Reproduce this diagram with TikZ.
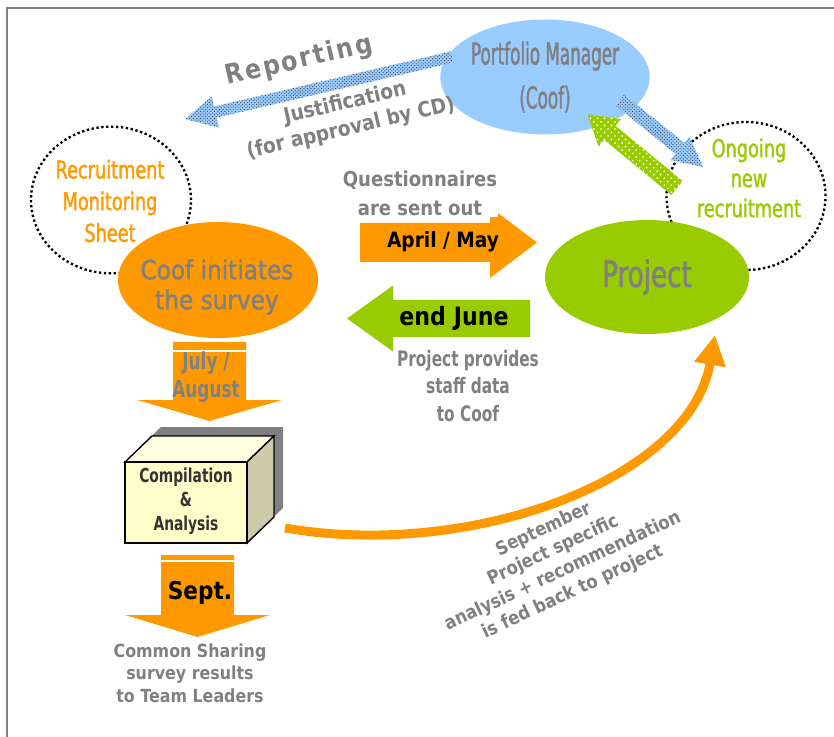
\documentclass[tikz,border=0pt]{standalone}
\usepackage{fontspec}
\setmainfont[FakeStretch=0.88]{DejaVu Sans}
\newfontfamily\midfont[FakeStretch=0.88,FakeBold=1.4]{DejaVu Sans}
\newfontfamily\narrowfont[FakeStretch=0.72]{DejaVu Sans}
\newfontfamily\narrowmid[FakeStretch=0.72,FakeBold=1.4]{DejaVu Sans}
\newfontfamily\slimfont[FakeStretch=0.56,FakeBold=1.4]{DejaVu Sans}
\usetikzlibrary{shapes.geometric,patterns,arrows.meta}
\definecolor{orangeF}{HTML}{FF9900}
\definecolor{greenF}{HTML}{99CC00}
\definecolor{blueF}{HTML}{99CCFF}
\definecolor{txtgrey}{HTML}{808080}
\definecolor{cubefront}{HTML}{FFFFCC}
\definecolor{cubetop}{HTML}{FFFFE0}
\definecolor{cubeside}{HTML}{CCCCAA}
\definecolor{cubetext}{HTML}{333333}
\pgfdeclarepatternformonly{sparse dots}{\pgfqpoint{-1pt}{-1pt}}{\pgfqpoint{6pt}{6pt}}{\pgfqpoint{6pt}{6pt}}%
  {\pgfpathcircle{\pgfqpoint{0pt}{0pt}}{0.8pt}\pgfpathcircle{\pgfqpoint{3pt}{3pt}}{0.8pt}\pgfusepath{fill}}
\newcommand{\fsz}[2]{\fontsize{#1}{#2}\selectfont}
% style, tail x, tail y, angle, length, body half, head half, head length
\newcommand{\blockarrow}[8]{%
  \path[#1,shift={(#2,#3)},rotate=#4] (0,-#6) -- ({#5-#8},-#6) -- ({#5-#8},-#7)
    -- (#5,0) -- ({#5-#8},#7) -- ({#5-#8},#6) -- (0,#6) -- cycle;}

\begin{document}
\begin{tikzpicture}[x=0.03cm,y=-0.03cm,
  gtext/.style={text=txtgrey,align=center,inner sep=0pt},
  ktext/.style={text=black,align=center,inner sep=0pt},
  ring/.style={ellipse,draw,line width=2pt,dash pattern=on 2pt off 2.2pt,inner sep=0pt},
  blob/.style={ellipse,inner sep=0pt}]
\useasboundingbox (0,0) rectangle (834,737);
\draw[txtgrey,line width=1.7pt] (7,737) -- (7,8) -- (834,8);

% dotted rings
\node[ring,minimum width=4.8cm,minimum height=4.4cm] (rmsring) at (111,200) {};
\node[gtext,text=orangeF,font={\narrowmid\fsz{21}{27}}] (rms) at (110,201) {Recruitment\\Monitoring\\Sheet};
\node[ring,minimum width=4.77cm,minimum height=4.44cm] (newring) at (746,196) {};
\node[gtext,text=greenF,font={\narrowmid\fsz{21}{25.6}}] (newrec) at (749,178) {Ongoing\\new\\recruitment};

% blobs
\node[blob,fill=orangeF,minimum width=6cm,minimum height=3.48cm] (coof) at (218,280) {};
\node[gtext,font={\midfont\fsz{22.5}{25.6}}] (cooftxt) at (217,287) {Coof initiates\\the survey};
\node[blob,fill=greenF,minimum width=6.12cm,minimum height=3.42cm,text=txtgrey,
  font={\narrowmid\fsz{31}{36}}] (proj) at (647,277) {Project};
\node[blob,fill=blueF,minimum width=5.25cm,minimum height=3.45cm,text=txtgrey,align=center,
  font={\slimfont\fsz{25.6}{37.5}}] (pm) at (545,77) {Portfolio Manager\\(Coof)};

% textured arrows
\blockarrow{fill=blueF,postaction={pattern=crosshatch dots,pattern color=black!80}}{452}{57}{193.1}{274}{5.7}{16}{31}
\blockarrow{fill=blueF,postaction={pattern=crosshatch dots,pattern color=black!80}}{620}{100}{-38.9}{107}{7}{15}{30}
\blockarrow{fill=greenF,postaction={pattern=sparse dots,pattern color=white}}{677}{188}{140.6}{116}{9}{17.7}{29}
\node[gtext,rotate=13,font={\bfseries\fsz{23}{26}\addfontfeature{LetterSpace=8}}] (rep) at (299,61) {Reporting};
\node[gtext,rotate=13,font={\bfseries\fsz{18}{22}}] (just) at (348,116) {Justification\\(for approval by CD)};

% survey out / data back
\blockarrow{fill=orangeF}{360}{242.5}{0}{177}{19.5}{35.5}{47}
\node[gtext,fill=white,inner sep=1pt,font={\bfseries\fsz{17.5}{24.8}}] (quest) at (420,193) {Questionnaires\\are sent out};
\node[ktext,font={\bfseries\fsz{18}{20}}] (april) at (443,242) {April / May};
\blockarrow{fill=greenF}{530}{318.5}{180}{183}{18.5}{33}{46}
\node[ktext,font={\bfseries\fsz{21.5}{24}}] (june) at (454,318) {end June};
\node[gtext,fill=white,inner sep=1pt,font={\narrowfont\bfseries\fsz{18.2}{23.5}}] (staff) at (468,386) {Project provides\\staff data\\to Coof};

% analysis column
\blockarrow{fill=orangeF}{209.5}{342}{-90}{79}{36.5}{72.5}{21}
\draw[white,line width=1.2pt] (173,351) -- (246,351);
\node[gtext,font={\narrowfont\bfseries\fsz{20}{24}}] (july) at (206,377) {July /\\August};
\fill[txtgrey] (134,453) -- (161,427) -- (283,427) -- (283,508) -- (256,534) -- (134,534) -- cycle;
\filldraw[fill=cubetop,line width=1.2pt] (125,462) -- (152,436) -- (274,436) -- (247,462) -- cycle;
\filldraw[fill=cubeside,line width=1.2pt] (247,462) -- (274,436) -- (274,517) -- (247,543) -- cycle;
\filldraw[fill=cubefront,line width=1.2pt] (125,462) rectangle (247,543);
\node[ktext,text=cubetext,font={\narrowfont\bfseries\fsz{16.4}{20.5}}] (comp) at (186,501) {Compilation\\\&\\Analysis};
\blockarrow{fill=orangeF}{197.5}{555}{-90}{82}{36.5}{72.5}{22}
\draw[white,line width=1.2pt] (161,561) -- (234,561);
\node[ktext,font={\bfseries\fsz{21}{24}}] (sept) at (200,593) {Sept.};
\node[gtext,font={\bfseries\fsz{15.4}{19.2}}] (share) at (190,673) {Common Sharing\\survey results\\to Team Leaders};

% feedback to project
\coordinate (fbs) at (285,528);
\coordinate (fbe) at (715,335);
\draw[orangeF,line width=0.27cm,-{Triangle[length=0.9cm,width=0.9cm]}] (fbs) .. controls (470,560) and (690,480) .. (fbe);
\node[gtext,rotate=25,font={\bfseries\fsz{16}{19.6}}] (feed) at (558,561) {September\\Project specific\\analysis + recommendation\\is fed back to project};
\end{tikzpicture}
\end{document}
